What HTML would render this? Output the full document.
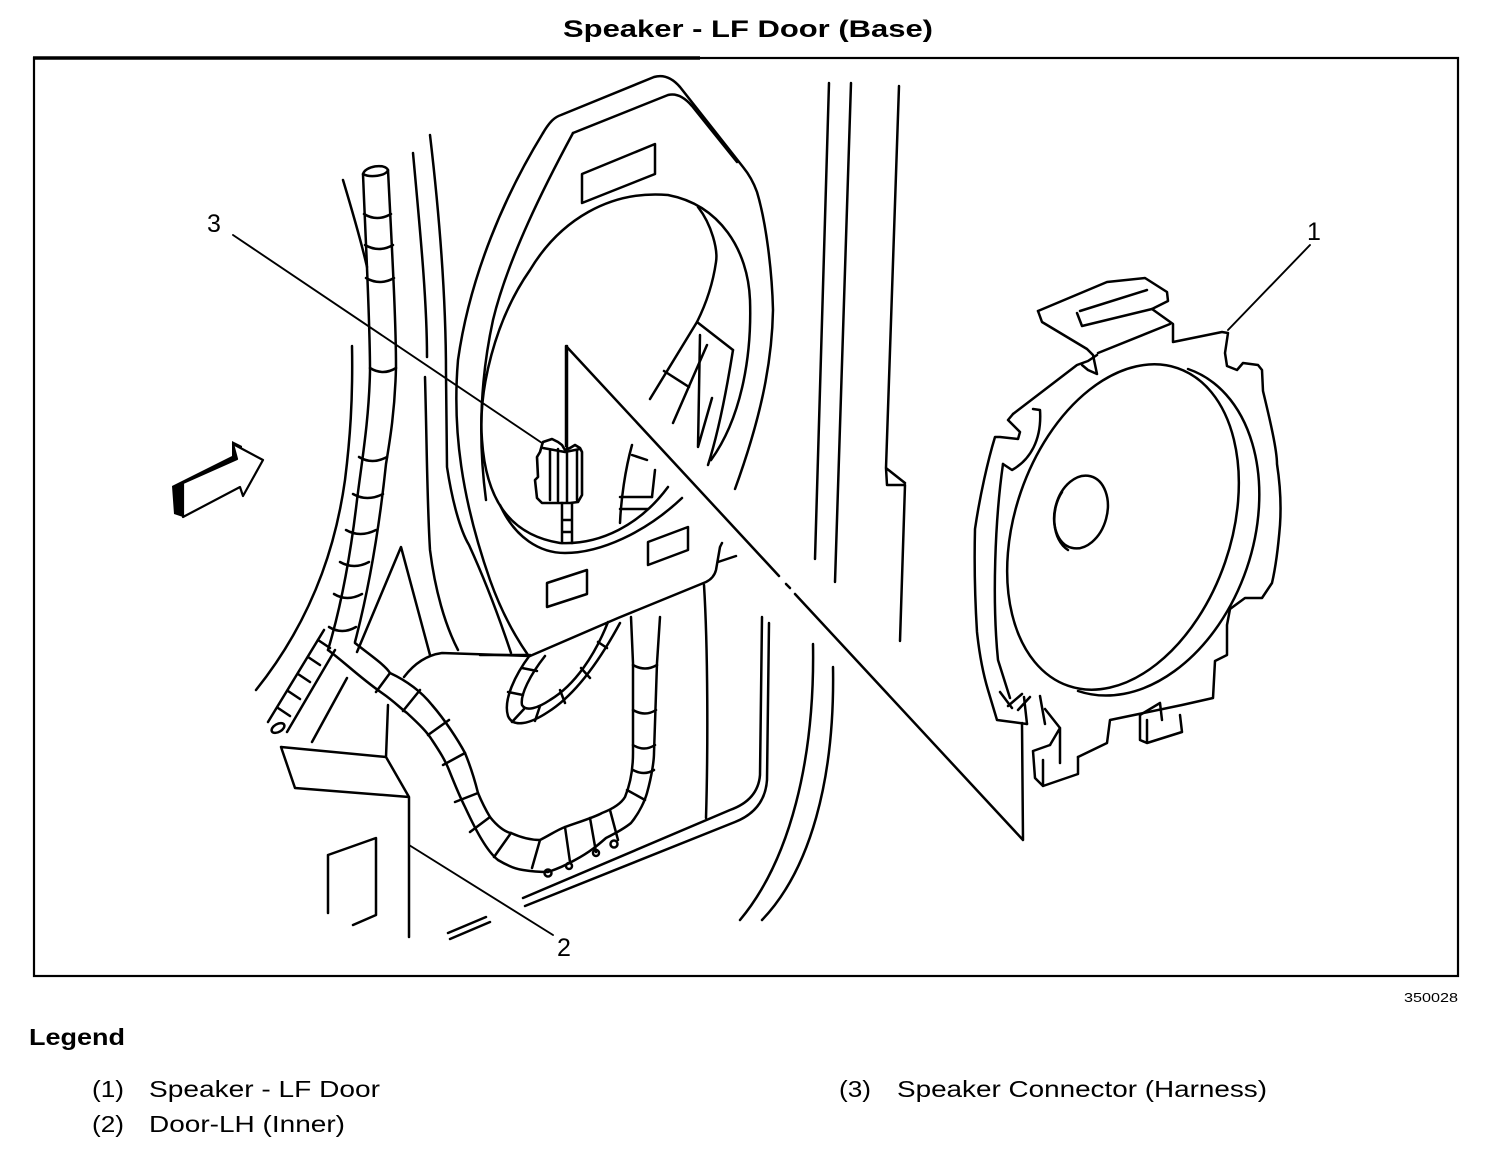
<!DOCTYPE html>
<html><head><meta charset="utf-8"><style>
html,body{margin:0;padding:0;background:#fff;}
svg{display:block;}
text{font-family:"Liberation Sans",Arial,sans-serif;fill:#000;}
</style></head><body>
<svg width="1504" height="1150" viewBox="0 0 1504 1150" xmlns="http://www.w3.org/2000/svg">
<rect width="1504" height="1150" fill="#fff"/>
<!-- title -->
<text x="563" y="37" font-size="24" font-weight="bold" textLength="370" lengthAdjust="spacingAndGlyphs">Speaker - LF Door (Base)</text>
<!-- frame -->
<rect x="34" y="58" width="1424" height="918" fill="none" stroke="#000" stroke-width="2.2"/>
<line x1="33" y1="58" x2="700" y2="58" stroke="#000" stroke-width="3.5"/>
<text x="1404" y="1002" font-size="13" textLength="54" lengthAdjust="spacingAndGlyphs">350028</text>

<g fill="none" stroke="#000" stroke-width="2.5" stroke-linecap="round" stroke-linejoin="round">
<!-- door pillar lines -->
<path d="M829,83 L815,559"/>
<path d="M851,83 L835,582"/>
<path d="M899,86 L886,468 L887,485 L905,485 L900,641 M886,468 L905,483"/>
<!-- panel outer contour -->
<path d="M543,133 C550,121 555,117 561,115 L654,77 Q668,73 680,87 L743,167 Q752,178 757,192 C766,222 772,270 773,310 C772,365 760,420 735,489"/>
<path d="M573,133 L668,95 Q680,92 692,106 L737,162"/>
<!-- panel left edges -->
<path d="M543,133 C505,195 470,275 458,360 C452,430 462,500 490,580 Q505,622 528,655"/>
<path d="M573,133 C545,185 508,258 493,320 C480,380 478,440 486,500"/>
<!-- speaker hole oval -->
<path d="M711,460 C740,420 752,360 750,300 C748,250 720,205 668,195 C610,190 560,220 530,270 C495,320 478,390 482,440 C486,500 510,535 560,543 C600,545 640,525 668,487"/>
<path d="M500,505 C515,538 540,553 565,553 C600,553 645,533 682,498"/>
<!-- top rectangle on panel -->
<path d="M582,174 L655,144 L655,174 L582,203 Z"/>
<!-- lower rectangles -->
<path d="M547,583 L587,570 L587,594 L547,607 Z"/>
<path d="M648,542 L688,527 L688,550 L648,565 Z"/>
<!-- wires inside oval right -->
<path d="M698,207 C712,225 718,250 716,262 C712,290 703,310 697,322 L650,399"/>
<path d="M697,322 L733,350"/>
<path d="M707,345 L673,423"/>
<path d="M700,335 L698,447 L712,398"/>
<path d="M664,371 L689,387"/>
<path d="M733,350 C725,400 716,440 708,465"/>
<path d="M632,445 C625,470 621,500 620,523"/>
<path d="M632,455 L647,460"/>
<path d="M655,470 L652,497"/>
<path d="M620,497 L652,497"/>
<path d="M620,509 L648,509"/>
<!-- bracket triangle & leader -->
<path d="M566,446 L566,346 L779,576"/>
<path d="M786,584 L790,588"/>
<path d="M795,594 L1023,840 L1022,723"/>
<!-- panel bottom edge -->
<path d="M404,677 Q420,656 442,653 L530,656 L618,618 L706,582 Q714,578 716,570 L720,547 L722,543"/>
<path d="M718,562 L736,556"/>
<path d="M480,655 L528,655"/>
<!-- panel right vertical -->
<path d="M704,585 C708,650 708,750 706,818"/>
<!-- connector -->
<path d="M542,445 L543,442 L552,439 L558,442 L562,445 L565,450 L570,448 L575,445 L580,448 L582,452 L582,495 L578,502 L570,503 L542,503 L537,498 L535,480 L538,477 L537,457 L540,452 Z" stroke-width="2.6"/>
<path d="M550,451 L550,500 M558,449 L558,501 M567,452 L567,502 M577,451 L577,500 M543,448 L565,452 L580,449"/>
<path d="M567,346 L567,448"/>
<path d="M562,503 L562,543 M572,503 L572,543 M562,520 L572,520 M562,532 L572,532"/>
<!-- left of tube lines -->
<path d="M343,180 C352,210 362,245 367,267"/>
<path d="M352,346 C353,400 350,440 345,480 C338,530 320,610 256,690"/>
<!-- right of tube lines -->
<path d="M413,153 C420,230 427,300 427,357 M425,377 C427,450 427,500 430,550 C435,590 445,625 458,650"/>
<path d="M430,135 C440,220 446,300 446,374 L447,467 C452,500 460,530 469,545 C485,580 500,620 511,653"/>
<!-- inverted V -->
<path d="M357,652 L401,547 L430,655"/>
<!-- tube (vertical harness) -->
<path d="M363,174 C365,166 385,163 388,170 C386,176 370,178 363,174"/>
<path d="M363,174 C366,250 370,320 370,371 C369,420 362,460 357,500 C350,560 340,610 328,650"/>
<path d="M388,170 C392,250 396,320 396,367 C395,410 390,440 386,464 C378,540 366,600 355,642"/>
<path d="M364,214 Q377,222 391,214 M365,245 Q379,253 393,245 M366,278 Q380,286 394,278 M370,368 Q383,376 396,368 M359,457 Q372,465 387,457 M353,494 Q367,502 383,494 M346,530 Q360,538 376,530 M340,562 Q354,570 369,562 M334,594 Q347,602 362,594 M329,627 Q342,635 356,627"/>
<!-- harness bend -->
<path d="M355,643 C370,655 385,665 390,673 C405,680 420,690 432,705 C445,720 458,740 465,753 C472,770 476,785 478,793 C483,805 487,812 490,817 C497,826 505,832 511,833 C522,838 532,840 540,840 C550,835 557,830 565,827 C585,820 595,817 602,813 C615,808 622,802 625,797 C632,780 633,765 633,753 L633,663 L631,617"/>
<path d="M328,650 C336,656 343,662 349,667 C362,678 372,686 382,693 C395,702 400,708 407,713 C420,725 427,732 432,740 C440,752 445,760 449,770 C455,785 460,797 465,807 C472,822 477,832 482,840 C488,850 493,856 498,860 C508,866 515,869 523,870 C535,872 542,872 548,872 C560,868 568,864 575,860 C590,852 598,845 606,838 C618,832 625,828 631,823 C640,812 645,800 647,793 C652,775 654,760 654,753 L657,663 L660,617"/>
<path d="M390,673 L376,692 M420,690 L403,711 M449,720 L428,735 M465,753 L443,765 M478,793 L455,802 M490,817 L470,832 M511,833 L494,857 M540,840 L532,868 M565,827 L570,862 M590,818 L596,852 M610,810 L618,840 M627,790 L645,800 M633,770 Q644,776 654,770 M633,745 Q644,752 655,745 M633,710 Q645,717 656,710 M633,665 Q645,672 657,665"/>
<circle cx="548" cy="873" r="3.5"/><circle cx="569" cy="866" r="3"/><circle cx="596" cy="853" r="3"/><circle cx="614" cy="844" r="3.5"/>
<!-- loop harness -->
<path d="M530,655 C515,675 503,700 508,716 C513,728 530,724 548,712 C575,695 600,660 620,623"/>
<path d="M545,656 C530,675 520,695 522,705 C526,712 538,708 550,700 C575,685 595,655 608,622"/>
<path d="M522,668 L537,671 M508,692 L523,695 M512,722 L524,709 M535,721 L540,706 M565,703 L560,690 M590,678 L581,668 M607,648 L598,642"/>
<!-- small left tube -->
<path d="M324,630 L268,722 M335,650 L287,732"/>
<ellipse cx="278" cy="728" rx="7" ry="4" transform="rotate(-30 278 728)"/>
<path d="M318,640 L330,648 M308,657 L320,665 M298,674 L310,682 M288,691 L300,699 M278,708 L290,716"/>
<path d="M312,742 L347,678"/>
<!-- box -->
<path d="M281,747 L386,757 L388,705 M281,747 L295,788 L409,797 M386,757 L409,797 L409,937"/>
<!-- bottom-left rect -->
<path d="M328,855 L376,838 L376,915 L353,925 M328,855 L328,913"/>
<!-- leader 2 -->
<path d="M409,845 L553,935" stroke-width="1.9"/>
<!-- small double lines -->
<path d="M448,933 L486,917 M450,939 L490,922"/>
<!-- long door lines -->
<path d="M762,617 L760,775 Q758,800 730,810 L523,898"/>
<path d="M769,623 L767,780 Q765,810 735,822 L525,906"/>
<path d="M813,644 C815,760 790,860 740,920"/>
<path d="M833,667 C835,780 810,870 762,920"/>
<!-- leader 3 -->
<path d="M233,235 L542,443" stroke-width="1.9"/>
<!-- leader 1 -->
<path d="M1310,245 L1228,330" stroke-width="1.9"/>
<!-- speaker -->
<path d="M1038,311 L1107,282 L1145,278 L1167,292 L1168,301 L1152,309 L1173,324 L1173,342 L1222,332 L1228,333 L1225,353 L1227,366 L1237,370 L1243,363 L1258,365 L1262,370 L1263,391 C1270,420 1277,450 1277,464 C1281,490 1281,510 1280,525 C1278,550 1275,570 1272,583 L1262,598 L1245,598 L1230,609 L1227,625 L1227,655 L1215,661 L1213,698 L1182,705 L1110,720 L1107,743 L1078,757"/>
<path d="M1038,311 L1042,322 L1087,349 L1093,355 L1097,374 L1088,370 L1082,365"/>
<path d="M1080,311 L1147,290 M1082,326 L1152,309 M1077,313 L1082,326"/>
<path d="M1098,353 L1170,324"/>
<path d="M1013,414 L1077,365 L1088,361 L1097,355"/>
<path d="M1013,414 L1008,420 L1020,432 L1018,439 L1000,437 L995,437 C988,460 980,495 975,529 C974,570 975,600 977,632 C980,660 985,680 988,690 L997,720 L1027,724"/>
<path d="M1003,464 L1012,470 C1030,460 1042,440 1040,410 L1033,409"/>
<path d="M1003,464 C995,520 992,600 998,660 L1010,698"/>
<path d="M1000,692 L1012,708 M1008,706 L1022,694 M1018,710 L1030,697 M1040,696 L1045,724 M1024,697 L1027,724 M1045,709 L1060,728 L1060,763 M1050,745 L1060,728"/>
<path d="M1033,751 L1035,778 L1043,786 L1078,774 L1078,757 M1043,760 L1043,786 M1033,751 L1050,745"/>
<path d="M1140,715 L1140,740 L1147,743 L1182,732 L1180,715 M1147,720 L1147,743 M1140,715 L1160,703 L1162,720"/>
<ellipse cx="1123" cy="527" rx="108" ry="168" transform="rotate(19 1123 527)"/>
<path d="M1188,369 A120 170 19 0 1 1078,691"/>
<ellipse cx="1081" cy="512" rx="26" ry="37" transform="rotate(15 1081 512)"/>
<path d="M1062,492 C1050,510 1052,540 1068,550"/>
</g>

<!-- arrow -->
<polygon points="172,486 232,456 232,441 242,446 242,460 183,483 183,517 174,514" fill="#000"/>
<polygon points="183,483 237,459 233,444 263,460 243,496 240,487 183,517" fill="#fff" stroke="#000" stroke-width="2.2" stroke-linejoin="round"/>

<!-- callout numbers -->
<text x="207" y="232" font-size="25">3</text>
<text x="1307" y="240" font-size="25">1</text>
<text x="557" y="956" font-size="25">2</text>

<!-- legend -->
<text x="29" y="1045" font-size="23" font-weight="bold" textLength="96" lengthAdjust="spacingAndGlyphs">Legend</text>
<text x="92" y="1097" font-size="23" textLength="32" lengthAdjust="spacingAndGlyphs">(1)</text>
<text x="149" y="1097" font-size="23" textLength="231" lengthAdjust="spacingAndGlyphs">Speaker - LF Door</text>
<text x="92" y="1132" font-size="23" textLength="32" lengthAdjust="spacingAndGlyphs">(2)</text>
<text x="149" y="1132" font-size="23" textLength="196" lengthAdjust="spacingAndGlyphs">Door-LH (Inner)</text>
<text x="839" y="1097" font-size="23" textLength="32" lengthAdjust="spacingAndGlyphs">(3)</text>
<text x="897" y="1097" font-size="23" textLength="370" lengthAdjust="spacingAndGlyphs">Speaker Connector (Harness)</text>
</svg>
</body></html>
